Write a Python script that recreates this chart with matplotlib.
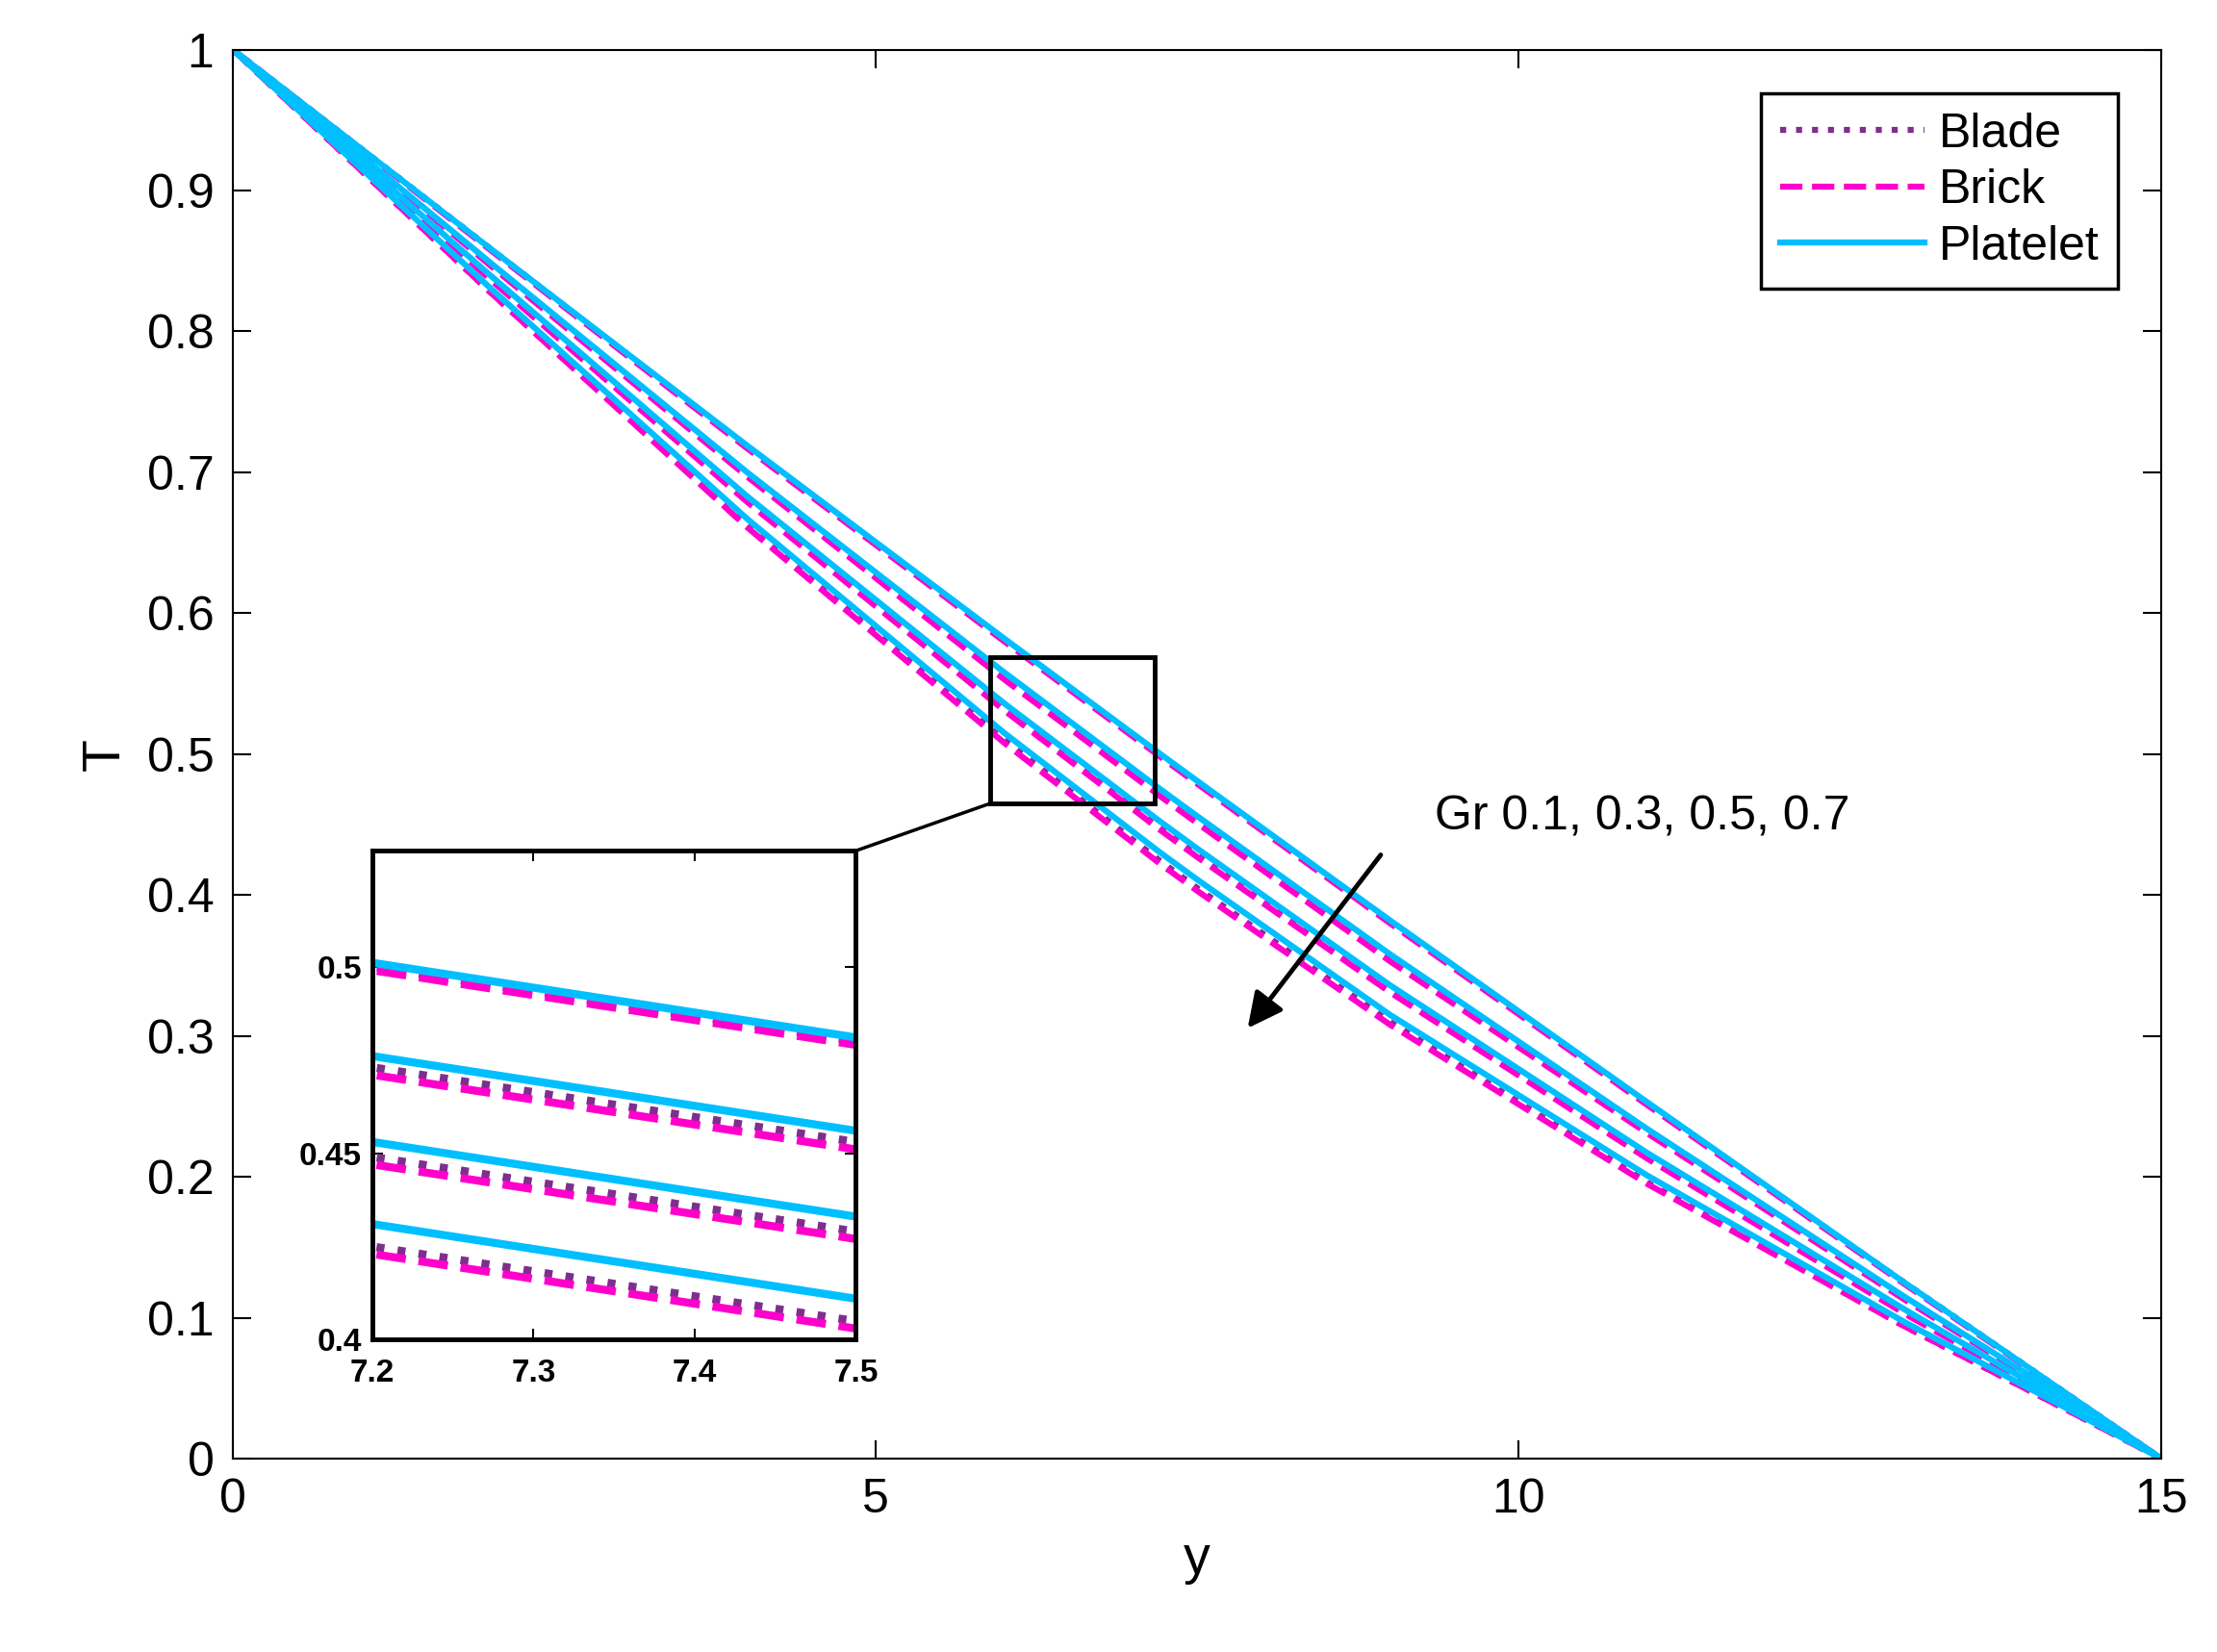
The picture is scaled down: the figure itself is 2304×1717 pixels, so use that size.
import numpy as np
import matplotlib.pyplot as plt

y = [0, 2, 4, 6, 7.2, 7.5, 9, 11, 13, 15]

# T(y) for Gr = 0.1, 0.3, 0.5, 0.7
blade = [
    [1, 0.859, 0.718, 0.581, 0.500, 0.480, 0.381, 0.252, 0.125, 0],
    [1, 0.848, 0.698, 0.555, 0.473, 0.453, 0.355, 0.232, 0.114, 0],
    [1, 0.838, 0.680, 0.532, 0.449, 0.429, 0.332, 0.214, 0.104, 0],
    [1, 0.828, 0.662, 0.510, 0.425, 0.405, 0.310, 0.196, 0.094, 0],
]
brick = [
    [1, 0.858, 0.717, 0.580, 0.499, 0.479, 0.380, 0.251, 0.124, 0],
    [1, 0.847, 0.697, 0.553, 0.471, 0.451, 0.353, 0.231, 0.113, 0],
    [1, 0.837, 0.679, 0.531, 0.447, 0.427, 0.331, 0.213, 0.103, 0],
    [1, 0.828, 0.661, 0.508, 0.423, 0.403, 0.308, 0.195, 0.094, 0],
]
platelet = [
    [1, 0.859, 0.719, 0.582, 0.501, 0.481, 0.382, 0.253, 0.125, 0],
    [1, 0.849, 0.700, 0.558, 0.476, 0.456, 0.358, 0.234, 0.115, 0],
    [1, 0.840, 0.683, 0.536, 0.453, 0.433, 0.336, 0.217, 0.106, 0],
    [1, 0.831, 0.667, 0.515, 0.431, 0.411, 0.315, 0.201, 0.097, 0],
]

styles = [
    ("Blade", blade, "#7E2F8E", ":"),
    ("Brick", brick, "#FF00CC", "--"),
    ("Platelet", platelet, "#00BFFF", "-"),
]

plt.rcParams['font.family'] = ['Liberation Sans', 'DejaVu Sans']

fig = plt.figure(figsize=(23.04, 17.17), dpi=100)
L, B, W, H = 0.105, 0.117, 0.870, 0.853
ax = fig.add_axes([L, B, W, H])

for name, data, col, ls in styles:
    for i, t in enumerate(data):
        ax.plot(y, t, color=col, ls=ls, lw=4.5, label=name if i == 0 else None)

ax.set_xlim(0, 15)
ax.set_ylim(0, 1)
ax.set_xticks([0, 5, 10, 15])
ax.set_yticks(np.arange(0, 1.01, 0.1))
ax.set_yticklabels(["0", "0.1", "0.2", "0.3", "0.4", "0.5", "0.6", "0.7", "0.8", "0.9", "1"])
ax.tick_params(direction='in', top=True, right=True, labelsize=36, length=14, width=1.5, pad=14)
for s in ax.spines.values():
    s.set_linewidth(1.5)
ax.set_xlabel("y", fontsize=40, labelpad=10)
ax.set_ylabel("T", fontsize=40, labelpad=12)

leg = ax.legend(loc='upper right', fontsize=36, fancybox=False, edgecolor='black',
                handlelength=3.0, handletextpad=0.3, borderaxespad=0.9,
                labelspacing=0.25, framealpha=1)
leg.get_frame().set_linewidth(2.5)

# zoom box
ax.add_patch(plt.Rectangle((5.89, 0.465), 1.28, 0.104, fill=False, lw=3.5, ec='black', zorder=5))

ax.annotate("", xy=(7.88, 0.304), xytext=(8.94, 0.430),
            arrowprops=dict(arrowstyle='-|>', color='black', lw=3.5, mutation_scale=55))
ax.text(9.35, 0.455, "Gr 0.1, 0.3, 0.5, 0.7", fontsize=36, va='center')

ins = fig.add_axes([0.168, 0.189, 0.218, 0.296])
for name, data, col, ls in styles:
    for t in data:
        ins.plot(y, t, color=col, ls=ls, lw=6)
ins.set_xlim(7.2, 7.5)
ins.set_ylim(0.4, 0.531)
ins.set_xticks([7.2, 7.3, 7.4, 7.5])
ins.set_yticks([0.4, 0.45, 0.5])
ins.set_yticklabels(["0.4", "0.45", "0.5"])
ins.tick_params(direction='in', top=True, right=True, labelsize=24, length=8, width=1.5)
ins.tick_params(axis='x', pad=14)
ins.tick_params(axis='y', pad=8)
for lab in ins.get_xticklabels() + ins.get_yticklabels():
    lab.set_fontweight('bold')
for s in ins.spines.values():
    s.set_linewidth(3.5)

# connector from zoom box to inset corner
fig.add_artist(plt.Line2D([L + W * 5.89 / 15, 0.386],
                          [B + H * 0.465, 0.485], color='black', lw=2.5))

fig.savefig("out.png", dpi=100)
